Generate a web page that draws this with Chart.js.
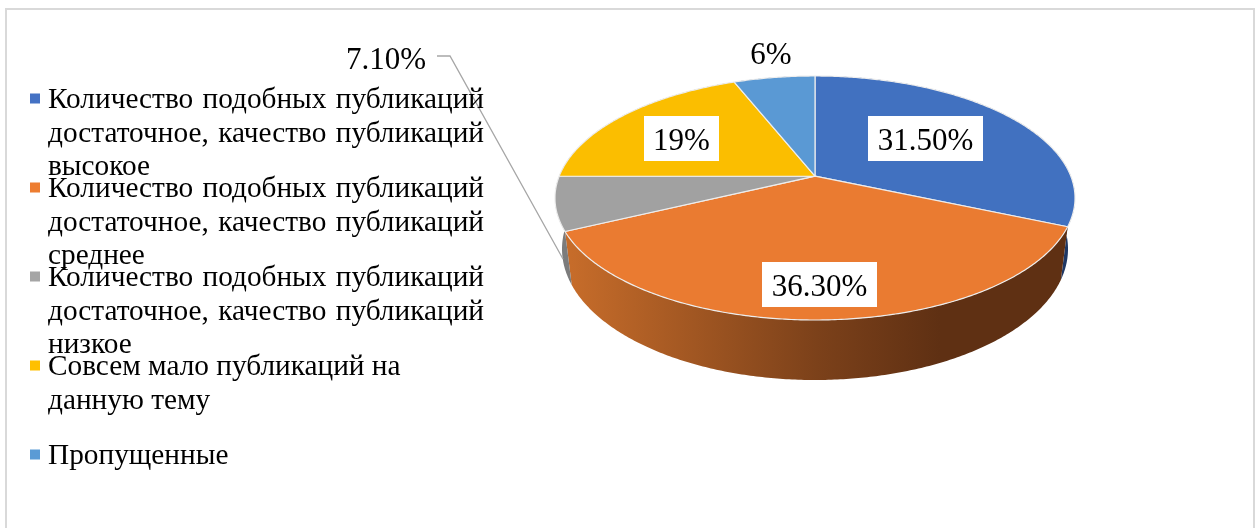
<!DOCTYPE html>
<html>
<head>
<meta charset="utf-8">
<style>
  html, body { margin: 0; padding: 0; background: #fff; }
  canvas { display: block; }
</style>
<script src="https://cdn.jsdelivr.net/npm/chart.js@4"></script>
</head>
<body>
<canvas id="myChart" width="1259" height="528"></canvas>
<script>
const categories = [
  ["Количество подобных публикаций", "достаточное, качество публикаций", "высокое"],
  ["Количество подобных публикаций", "достаточное, качество публикаций", "среднее"],
  ["Количество подобных публикаций", "достаточное, качество публикаций", "низкое"],
  ["Совсем мало публикаций на", "данную тему"],
  ["Пропущенные"],
];
const values = [31.5, 36.3, 7.1, 19, 6];
const valueLabels = ["31.50%", "36.30%", "7.10%", "19%", "6%"];
const sliceColors = ["#4472C4", "#ED7D31", "#A5A5A5", "#FFC000", "#5B9BD5"];
const topColors = ["#4171C0", "#EA7B31", "#A1A1A1", "#FBBE00", "#5A99D4"];
const sideColors = ["#1F3864", "#B8632A", "#7C7C7C", "#9C7500", "#2E5F8E"];

const FONT = '"Liberation Serif", "Times New Roman", serif';

// the 3d look: top and bottom rims of the pie as two perspective ellipses
const topRim = { cx: 815, cy: 198, rx: 260, ry: 122 };
const lowRim = { cx: 815, cy: 249, rx: 253, ry: 131 };
const tilt = -0.18;

function project(rim, angle) {
  const u = Math.cos(angle);
  const v = Math.sin(angle);
  const w = 1 + tilt * v;
  return {
    x: rim.cx + (rim.rx * Math.sqrt(1 - tilt * tilt) * u) / w,
    y: rim.cy + (rim.ry * (v + tilt)) / w,
  };
}

function rimPoints(rim, start, end) {
  const pts = [];
  const steps = Math.max(2, Math.ceil((end - start) / 0.01));
  for (let i = 0; i <= steps; i++) {
    pts.push(project(rim, start + ((end - start) * i) / steps));
  }
  return pts;
}

function sideFill(ctx, index) {
  if (index !== 1) return sideColors[index];
  const grad = ctx.createLinearGradient(571, 0, 1063, 0);
  grad.addColorStop(0, "#C66C2A");
  grad.addColorStop(0.5, "#7C411A");
  grad.addColorStop(0.75, "#5F3013");
  grad.addColorStop(1, "#5F3013");
  return grad;
}

const pie3d = {
  id: "pie3d",
  beforeDraw(chart) {
    const ctx = chart.ctx;
    // frame of the chart area, open at the bottom
    ctx.save();
    ctx.strokeStyle = "#D9D9D9";
    ctx.lineWidth = 2;
    ctx.beginPath();
    ctx.moveTo(6, 528);
    ctx.lineTo(6, 9);
    ctx.lineTo(1254, 9);
    ctx.lineTo(1254, 528);
    ctx.stroke();
    ctx.restore();
  },
  beforeDatasetDraw(chart) {
    const ctx = chart.ctx;
    const arcs = chart.getDatasetMeta(0).data;
    ctx.save();

    // sides first
    arcs.forEach((arc, i) => {
      const up = rimPoints(topRim, arc.startAngle, arc.endAngle);
      const low = rimPoints(lowRim, arc.startAngle, arc.endAngle).reverse();
      ctx.beginPath();
      up.concat(low).forEach((p, k) => (k ? ctx.lineTo(p.x, p.y) : ctx.moveTo(p.x, p.y)));
      ctx.closePath();
      ctx.fillStyle = sideFill(ctx, i);
      ctx.fill();
    });

    // top faces
    const centre = { x: topRim.cx, y: topRim.cy + topRim.ry * tilt };
    arcs.forEach((arc, i) => {
      ctx.beginPath();
      ctx.moveTo(centre.x, centre.y);
      rimPoints(topRim, arc.startAngle, arc.endAngle).forEach((p) => ctx.lineTo(p.x, p.y));
      ctx.closePath();
      ctx.fillStyle = topColors[i];
      ctx.fill();
      ctx.strokeStyle = "#EDEDED";
      ctx.lineWidth = 1.2;
      ctx.lineJoin = "round";
      ctx.stroke();
    });
    ctx.restore();
    return false;
  },
  afterDatasetsDraw(chart) {
    const ctx = chart.ctx;
    ctx.save();

    // leader line of the grey slice
    ctx.strokeStyle = "#A6A6A6";
    ctx.lineWidth = 1.3;
    ctx.beginPath();
    ctx.moveTo(437, 56);
    ctx.lineTo(450, 56);
    ctx.lineTo(563, 259);
    ctx.stroke();

    // value labels
    ctx.font = "31px " + FONT;
    ctx.textAlign = "center";
    ctx.textBaseline = "alphabetic";
    const spots = [
      { x: 925.5, y: 138.5, box: [115, 45] },
      { x: 819.5, y: 284.5, box: [115, 45] },
      { x: 386, y: 58 },
      { x: 681.5, y: 138.5, box: [75, 45] },
      { x: 771, y: 53 },
    ];
    valueLabels.forEach((text, i) => {
      const s = spots[i];
      if (s.box) {
        ctx.fillStyle = "#FFFFFF";
        ctx.fillRect(s.x - s.box[0] / 2, s.y - s.box[1] / 2, s.box[0], s.box[1]);
      }
      ctx.fillStyle = "#000000";
      ctx.fillText(text, s.x, s.y + 11);
    });

    // legend, the rows overlap a little like in the original
    const left = 48;
    const right = 484;
    ctx.font = "29.3px " + FONT;
    ctx.textAlign = "left";
    chart.data.labels.forEach((lines, i) => {
      const base = 108 + 89 * i;
      ctx.fillStyle = sliceColors[i];
      ctx.fillRect(30, base - 14.5, 10, 10);
      ctx.fillStyle = "#000000";
      lines.forEach((line, n) => {
        const y = base + Math.round(33.5 * n);
        const words = line.split(" ");
        const justify = lines.length === 3 && n < 2;
        if (!justify) {
          ctx.fillText(line, left, y);
          return;
        }
        const used = words.reduce((sum, w) => sum + ctx.measureText(w).width, 0);
        const gap = (right - left - used) / (words.length - 1);
        let x = left;
        words.forEach((w) => {
          ctx.fillText(w, x, y);
          x += ctx.measureText(w).width + gap;
        });
      });
    });
    ctx.restore();
  },
};

new Chart(document.getElementById("myChart"), {
  type: "pie",
  data: {
    labels: categories,
    datasets: [
      {
        data: values,
        backgroundColor: sliceColors,
      },
    ],
  },
  options: {
    responsive: false,
    animation: false,
    plugins: {
      legend: { display: false },
      tooltip: { enabled: false },
    },
  },
  plugins: [pie3d],
});
</script>
</body>
</html>
